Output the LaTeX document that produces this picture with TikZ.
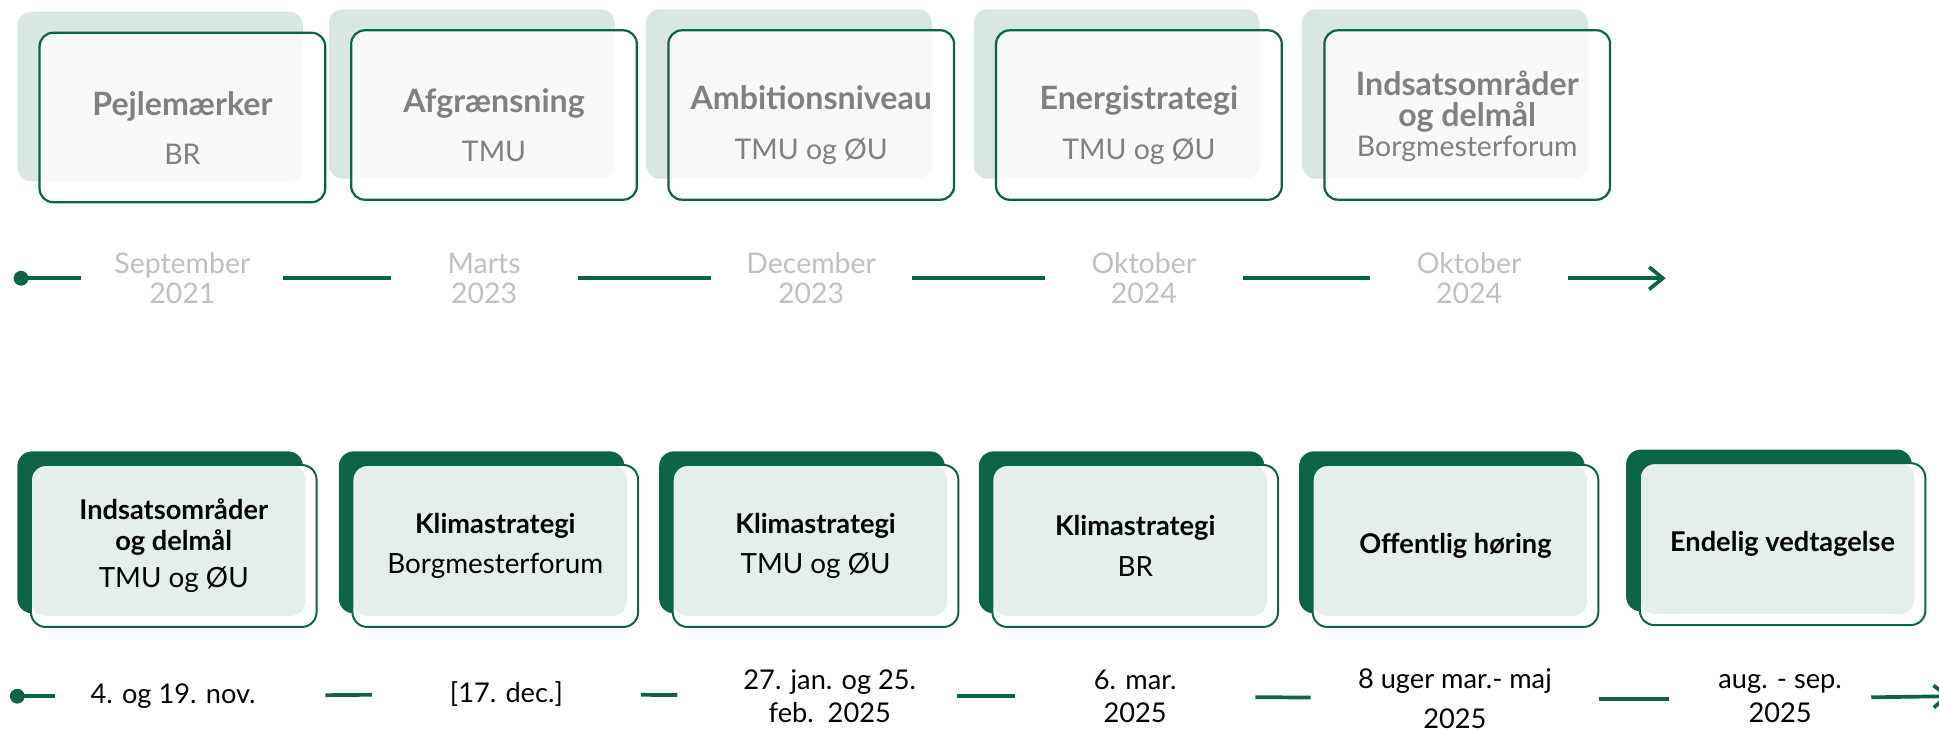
\documentclass[tikz,border=0pt]{standalone}
\usepackage{fontspec}
\setmainfont{Lato}
\usetikzlibrary{positioning, arrows.meta, shadows}

\definecolor{tlgreen}{RGB}{12,100,70}
\definecolor{topback}{RGB}{217,231,225}
\definecolor{botfill}{RGB}{228,238,234}
\definecolor{topgray}{RGB}{128,128,128}
\definecolor{dategray}{RGB}{192,192,192}

\newcommand{\hd}[1]{{\fontsize{26}{28}\selectfont\bfseries #1}}
\newcommand{\hdb}[1]{{\fontsize{22}{25}\selectfont\bfseries #1}}

\begin{document}
\begin{tikzpicture}[x=1pt, y=-1pt,
    topbox/.style={rectangle, draw=tlgreen, line width=1.8pt, rounded corners=11pt, fill=white, fill opacity=0.8, text opacity=1,
        minimum width=231pt, minimum height=137pt, align=center, text=topgray, font=\fontsize{23}{28}\selectfont,
        copy shadow={fill=topback, draw=none, fill opacity=1, shadow xshift=-18pt, shadow yshift=17pt}},
    botbox/.style={rectangle, draw=tlgreen, line width=1.6pt, rounded corners=12pt, fill=white,
        minimum width=231pt, minimum height=131pt, align=center, text=black, font=\fontsize{22.5}{25}\selectfont,
        copy shadow={fill=tlgreen, draw=none, shadow xshift=-11pt, shadow yshift=11pt},
        path picture={\fill[botfill, rounded corners=12pt] (path picture bounding box.north west) rectangle ([xshift=-9pt, yshift=9pt]path picture bounding box.south east);}},
    topdate/.style={inner sep=0pt, align=center, text=dategray, font=\fontsize{23}{24}\selectfont},
    botdate/.style={inner sep=0pt, align=center, text=black, font=\fontsize{22}{27}\selectfont},
    tline/.style={draw=tlgreen, line width=3pt},
    tdot/.style={circle, fill=tlgreen, inner sep=0pt, minimum size=12pt},
    tarrow/.style={tline, -{Straight Barb[length=11pt, width=18pt]}}
]
\useasboundingbox (0,0) rectangle (1568,591);

% first timeline
\node[topbox] (a1) at (147.5,95) {\hd{\rule{0pt}{36pt}Pejlemærker}\\[12pt] BR};
\node[topbox] (a2) at (399.5,93) {\hd{\rule{0pt}{36pt}Afgrænsning}\\[12pt] TMU};
\node[topbox] (a3) at (656,93) {\hd{\rule{0pt}{36pt}Ambitionsniveau}\\[12pt] TMU og ØU};
\node[topbox] (a4) at (921,93) {\hd{\rule{0pt}{36pt}Energistrategi}\\[12pt] TMU og ØU};
\node[topbox] (a5) at (1186.5,93) {\hd{\rule{0pt}{22pt}Indsatsområder}\\[-3pt] \hd{og delmål}\\[-3pt] Borgmesterforum};

\node[tdot] (s1) at (17,225) {};
\node[topdate, minimum width=163pt] (t1) at (147.5,225) {September\\2021};
\node[topdate, minimum width=151pt] (t2) at (391.5,225) {Marts\\2023};
\node[topdate, minimum width=162pt] (t3) at (656,225) {December\\2023};
\node[topdate, minimum width=160pt] (t4) at (925,225) {Oktober\\2024};
\node[topdate, minimum width=160pt] (t5) at (1188,225) {Oktober\\2024};
\coordinate (e1) at (1347,225);

\draw[tline] (s1.center) -- (t1);
\draw[tline] (t1) -- (t2);
\draw[tline] (t2) -- (t3);
\draw[tline] (t3) -- (t4);
\draw[tline] (t4) -- (t5);
\draw[tarrow] (t5) -- (e1);

% second timeline
\node[botbox] (b1) at (140.5,441.5) {\hdb{Indsatsområder}\\ \hdb{og delmål}\\[5pt] TMU og ØU};
\node[botbox] (b2) at (400.5,441.5) {\hdb{Klimastrategi}\\[8pt] Borgmesterforum};
\node[botbox] (b3) at (659.5,441.5) {\hdb{Klimastrategi}\\[8pt] TMU og ØU};
\node[botbox] (b4) at (918,441.5) {\hdb{Klimastrategi}\\[8pt] BR};
\node[botbox] (b5) at (1177,441.5) {\hdb{Offentlig høring}};
\node[botbox] (b6) at (1441.5,440) {\hdb{Endelig vedtagelse}};

\node[tdot] (s2) at (14,563) {};
\node[botdate, minimum width=218pt] (d1) at (154,563) {4. og 19. nov.\hspace*{28pt}};
\node[botdate, minimum width=217pt] (d2) at (409.5,561) {[17. dec.]};
\node[botdate, minimum width=226pt] (d3) at (661,563) {\hspace*{20pt}27. jan. og 25.\\\hspace*{20pt}feb.\ \ 2025};
\node[botdate, minimum width=194pt] (d4) at (918,563) {6. mar.\\2025};
\node[botdate, minimum width=233pt] (d5) at (1176.5,565) {8 uger mar.- maj\\[5pt]2025};
\node[botdate, minimum width=163pt] (d6) at (1431.5,565) {\hspace*{16pt}aug. - sep.\\\hspace*{16pt}2025};
\coordinate (e2) at (1577,563);

\draw[tline] (s2.center) -- (d1);
\draw[tline] (d1) -- (d2);
\draw[tline] (d2) -- (d3);
\draw[tline] (d3) -- (d4);
\draw[tline] (d4) -- (d5);
\draw[tline] (d5) -- (d6);
\draw[tarrow] (d6) -- (e2);
\end{tikzpicture}
\end{document}
